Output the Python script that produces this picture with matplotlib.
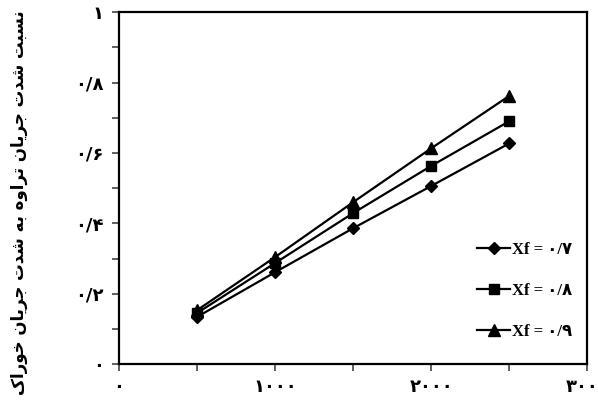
import numpy as np
import matplotlib
matplotlib.use("Agg")
import matplotlib.pyplot as plt
from matplotlib.ticker import MultipleLocator, FixedLocator, FixedFormatter

# داده‌ها
x_vals = [500, 1000, 1500, 2000, 2500]
y_07 = [0.134, 0.261, 0.386, 0.506, 0.627]
y_08 = [0.145, 0.287, 0.429, 0.563, 0.690]
y_09 = [0.153, 0.304, 0.460, 0.613, 0.762]
series_labels = ["Xf = ۰/۷", "Xf = ۰/۸", "Xf = ۰/۹"]
x_ticks = [0, 1000, 2000, 3000]
x_tick_labels = ["۰", "۱۰۰۰", "۲۰۰۰", "۳۰۰۰"]
y_ticks = [0, 0.2, 0.4, 0.6, 0.8, 1.0]
y_tick_labels = ["۰", "۰/۲", "۰/۴", "۰/۶", "۰/۸", "۱"]
y_label = "نسبت شدت جریان تراوه به شدت جریان خوراک"

# شکل‌دهی ساده حروف فارسی (بدون کتابخانه خارجی)
FORMS = {
    "ا": ("\uFE8D", "\uFE8E", None, None),
    "ب": ("\uFE8F", "\uFE90", "\uFE91", "\uFE92"),
    "ت": ("\uFE95", "\uFE96", "\uFE97", "\uFE98"),
    "ج": ("\uFE9D", "\uFE9E", "\uFE9F", "\uFEA0"),
    "خ": ("\uFEA5", "\uFEA6", "\uFEA7", "\uFEA8"),
    "د": ("\uFEA9", "\uFEAA", None, None),
    "ر": ("\uFEAD", "\uFEAE", None, None),
    "س": ("\uFEB1", "\uFEB2", "\uFEB3", "\uFEB4"),
    "ش": ("\uFEB5", "\uFEB6", "\uFEB7", "\uFEB8"),
    "ن": ("\uFEE5", "\uFEE6", "\uFEE7", "\uFEE8"),
    "ه": ("\uFEE9", "\uFEEA", "\uFEEB", "\uFEEC"),
    "و": ("\uFEED", "\uFEEE", None, None),
    "ی": ("\uFBFC", "\uFBFD", "\uFBFE", "\uFBFF"),
    "ک": ("\uFB8E", "\uFB8F", "\uFB90", "\uFB91"),
}


def shape(text):
    out = []
    for i, ch in enumerate(text):
        if ch not in FORMS:
            out.append(ch)
            continue
        prev = text[i - 1] if i > 0 else ""
        nxt = text[i + 1] if i + 1 < len(text) else ""
        join_prev = prev in FORMS and FORMS[prev][2] is not None
        join_next = FORMS[ch][2] is not None and nxt in FORMS
        iso, fin, ini, med = FORMS[ch]
        if join_prev and join_next:
            out.append(med)
        elif join_prev:
            out.append(fin)
        elif join_next:
            out.append(ini)
        else:
            out.append(iso)
    return "".join(out)[::-1]


plt.rcParams['font.family'] = ['DejaVu Sans']

fig = plt.figure(figsize=(5.98, 4.05), dpi=100)
ax = fig.add_axes([0.199, 0.101, 0.783, 0.869])

ax.plot(x_vals, y_07, color='black', lw=1.6, marker='D', ms=6, label=series_labels[0])
ax.plot(x_vals, y_08, color='black', lw=1.6, marker='s', ms=7, label=series_labels[1])
ax.plot(x_vals, y_09, color='black', lw=1.6, marker='^', ms=8, label=series_labels[2])

ax.set_xlim(0, 3000)
ax.set_ylim(0, 1)
ax.xaxis.set_major_locator(FixedLocator(x_ticks))
ax.xaxis.set_major_formatter(FixedFormatter(x_tick_labels))
ax.xaxis.set_minor_locator(MultipleLocator(500))
ax.yaxis.set_major_locator(FixedLocator(y_ticks))
ax.yaxis.set_major_formatter(FixedFormatter(y_tick_labels))
ax.yaxis.set_minor_locator(MultipleLocator(0.1))

ax.tick_params(which='both', direction='out', length=5, width=1.2, color='#444444')
ax.tick_params(axis='x', pad=5, labelsize=13)
ax.tick_params(axis='y', pad=6, labelsize=13)
for lab in ax.get_xticklabels() + ax.get_yticklabels():
    lab.set_fontweight('bold')

for sp in ax.spines.values():
    sp.set_linewidth(1.6)

ax.set_ylabel(shape(y_label), fontsize=12, fontweight='bold')
ax.yaxis.set_label_coords(-0.195, 0.46)

leg = ax.legend(loc='lower right', bbox_to_anchor=(1.0, 0.025), frameon=False,
                labelspacing=1.5, handlelength=2.0, handletextpad=0.1,
                prop={'family': ['Liberation Serif', 'DejaVu Sans'], 'weight': 'bold', 'size': 12})

fig.savefig("out.png", dpi=100)
